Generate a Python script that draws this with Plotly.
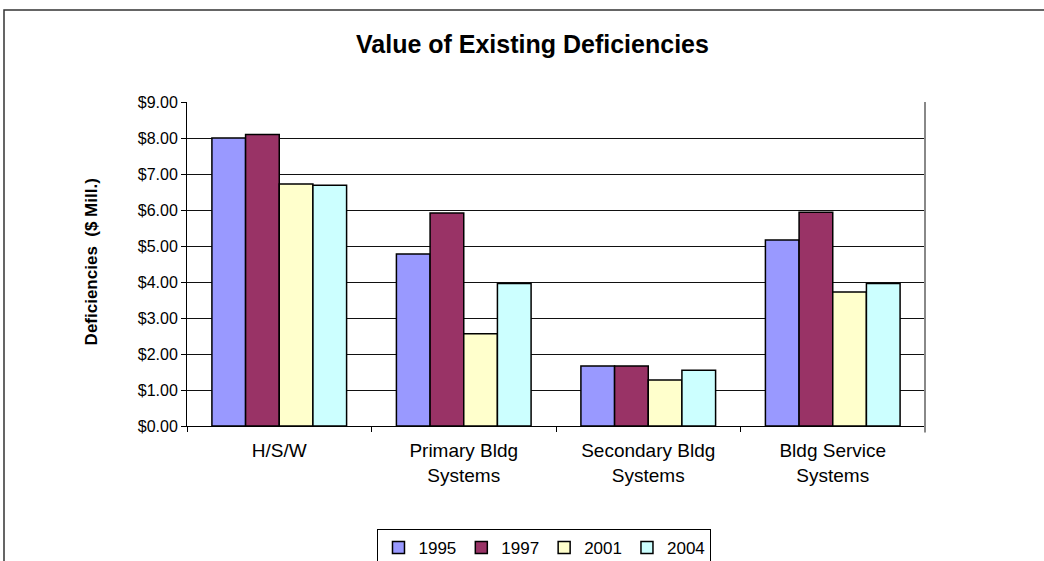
import plotly.graph_objects as go

# Deficiency values ($ millions) by building category and survey year
categories = ["H/S/W", "Primary Bldg<br>Systems", "Secondary Bldg<br>Systems", "Bldg Service<br>Systems"]
years = ["1995", "1997", "2001", "2004"]
values_1995 = [8.00, 4.78, 1.67, 5.17]
values_1997 = [8.10, 5.92, 1.67, 5.94]
values_2001 = [6.72, 2.56, 1.28, 3.72]
values_2004 = [6.69, 3.96, 1.55, 3.96]
series = [values_1995, values_1997, values_2001, values_2004]
colors = ["#9999FF", "#993366", "#FFFFCC", "#CCFFFF"]

FONT = "Liberation Sans, Arial, sans-serif"

fig = go.Figure()
for year, vals, col in zip(years, series, colors):
    fig.add_trace(go.Bar(
        x=categories, y=vals, name=year,
        marker=dict(color=col, line=dict(color="#000000", width=1.5)),
    ))

fig.update_layout(
    width=1044, height=561,
    margin=dict(l=187, r=119, t=102, b=135, autoexpand=False),
    paper_bgcolor="white", plot_bgcolor="white",
    barmode="group", bargap=0.27, bargroupgap=0,
    font=dict(family=FONT, color="#000000"),
    title=dict(
        text="<b>Value of Existing Deficiencies</b>",
        x=0.51, xref="container", xanchor="center",
        y=1 - 44 / 561, yref="container", yanchor="middle",
        font=dict(size=25, family=FONT, color="#000000"),
    ),
    showlegend=True,
    legend=dict(
        orientation="h", x=0.4844, xanchor="center", y=-0.318, yanchor="top",
        bordercolor="#000000", borderwidth=1, bgcolor="white",
        font=dict(size=17, family=FONT), traceorder="normal",
        itemwidth=30,
    ),
    xaxis=dict(
        type="category", tickson="boundaries", ticks="outside", ticklen=5,
        tickcolor="#000000", showline=True, linecolor="#000000", linewidth=1,
        showgrid=False, tickfont=dict(size=19, family=FONT), fixedrange=True,
        ticklabelstandoff=7,
    ),
    yaxis=dict(
        range=[0, 9], dtick=1, tickformat="$.2f", ticks="outside", ticklen=5,
        tickcolor="#000000", showline=True, linecolor="#000000", linewidth=1,
        showgrid=True, gridcolor="#111111", gridwidth=1, zeroline=False,
        tickfont=dict(size=16, family=FONT), fixedrange=True,
    ),
)

# Axis title drawn as a rotated annotation
fig.add_annotation(
    text="<b>Deficiencies  ($ Mill.)</b>", textangle=-90,
    xref="paper", yref="paper", x=0, y=0.505, xshift=-96,
    xanchor="center", yanchor="middle", showarrow=False,
    font=dict(size=17, family=FONT, color="#000000"),
)

# Right edge of the plotting area
fig.add_shape(type="line", xref="paper", yref="paper", x0=1, x1=1, y0=-0.02, y1=1,
              line=dict(color="#888888", width=2))

# Frame around the whole chart
fig.add_shape(type="rect", xref="paper", yref="paper",
              x0=(4 - 187) / 738, x1=1.25, y0=-0.7, y1=(426 - 10) / 324,
              line=dict(color="#333333", width=1.5), layer="below")

fig.write_html("out.html")
